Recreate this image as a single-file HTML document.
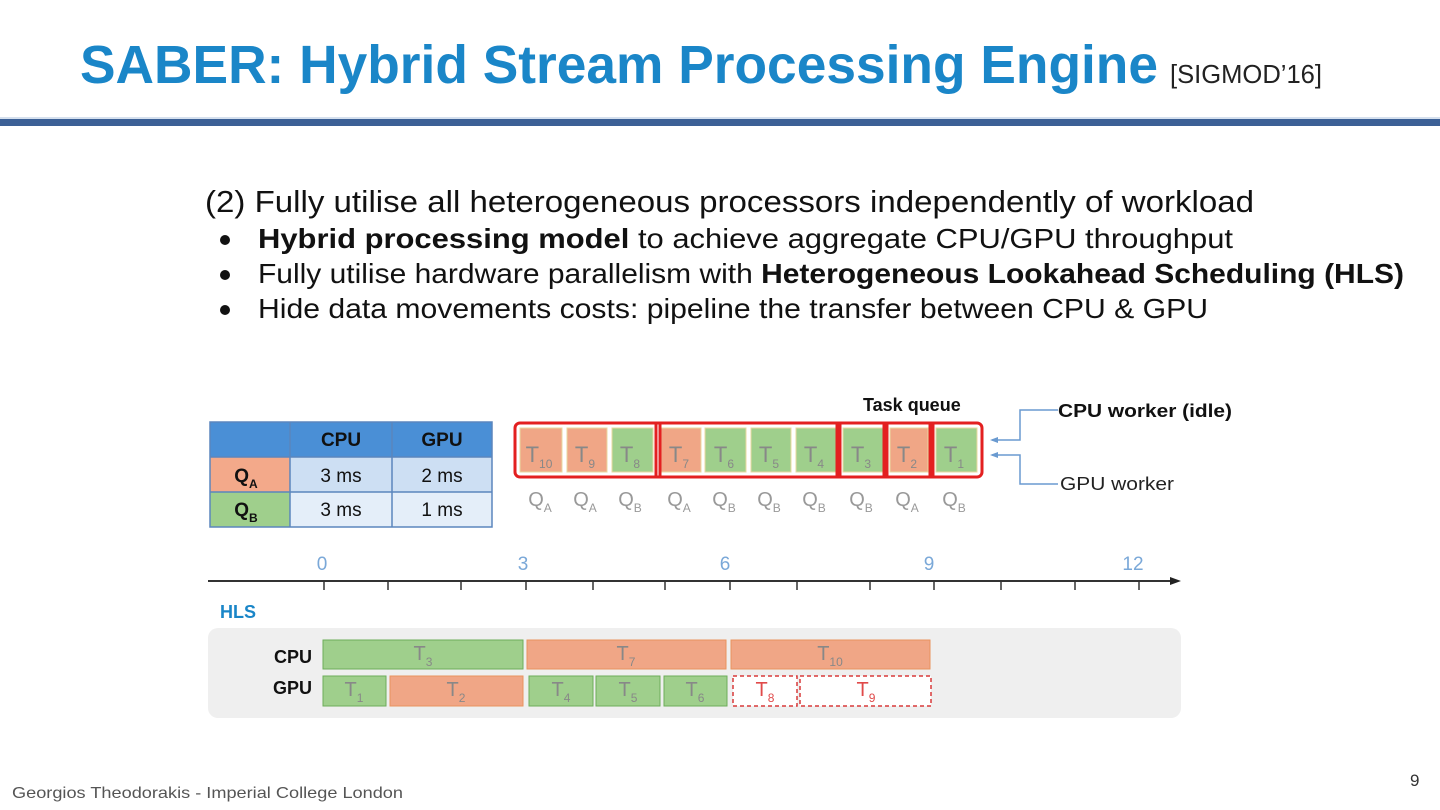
<!DOCTYPE html>
<html><head><meta charset="utf-8"><style>
html,body{margin:0;padding:0;background:#fff;}
svg{display:block;font-family:"Liberation Sans",Arial,sans-serif;}
</style></head><body>
<svg width="1440" height="810" viewBox="0 0 1440 810" xmlns="http://www.w3.org/2000/svg">
<rect width="1440" height="810" fill="#fff"/>
<text x="80" y="83" font-size="54" font-weight="bold" fill="#1a86c8" textLength="1078" lengthAdjust="spacingAndGlyphs">SABER: Hybrid Stream Processing Engine</text>
<text x="1170" y="83" font-size="26" fill="#222" textLength="152" lengthAdjust="spacingAndGlyphs">[SIGMOD’16]</text>
<rect x="0" y="119" width="1440" height="7" fill="#3c6096"/>
<rect x="0" y="117" width="1440" height="2" fill="#d5e0ee"/>

<text x="205" y="212" font-size="31" fill="#111" textLength="1049" lengthAdjust="spacingAndGlyphs">(2) Fully utilise all heterogeneous processors independently of workload</text>
<g font-size="28" fill="#111">
<circle cx="225" cy="240" r="5" fill="#111"/>
<text x="258" y="248" textLength="975" lengthAdjust="spacingAndGlyphs"><tspan font-weight="bold">Hybrid processing model</tspan> to achieve aggregate CPU/GPU throughput</text>
<circle cx="225" cy="275" r="5" fill="#111"/>
<text x="258" y="283" textLength="1146" lengthAdjust="spacingAndGlyphs">Fully utilise hardware parallelism with <tspan font-weight="bold">Heterogeneous Lookahead Scheduling (HLS)</tspan></text>
<circle cx="225" cy="310" r="5" fill="#111"/>
<text x="258" y="318" textLength="950" lengthAdjust="spacingAndGlyphs">Hide data movements costs: pipeline the transfer between CPU &amp; GPU</text>
</g>

<!-- table -->
<rect x="210" y="422" width="282" height="35" fill="#4a8fd6"/>
<rect x="210" y="457" width="80" height="35" fill="#f3a98a"/>
<rect x="210" y="492" width="80" height="35" fill="#9fcf8c"/>
<rect x="290" y="457" width="202" height="35" fill="#cddff3"/>
<rect x="290" y="492" width="202" height="35" fill="#e4eef9"/>
<g stroke="#5b86bd" stroke-width="1.5" fill="none">
<rect x="210" y="422" width="282" height="105"/>
<line x1="290" y1="422" x2="290" y2="527"/><line x1="392" y1="422" x2="392" y2="527"/>
<line x1="210" y1="457" x2="492" y2="457"/><line x1="210" y1="492" x2="492" y2="492"/>
</g>
<g font-size="19" text-anchor="middle" fill="#111">
<text x="341" y="446" font-weight="bold">CPU</text><text x="442" y="446" font-weight="bold">GPU</text>
<text x="341" y="482">3 ms</text><text x="442" y="482">2 ms</text>
<text x="341" y="516">3 ms</text><text x="442" y="516">1 ms</text>
<text x="246" y="482" font-weight="bold">Q<tspan font-size="12" dy="6">A</tspan></text>
<text x="246" y="516" font-weight="bold">Q<tspan font-size="12" dy="6">B</tspan></text>
</g>

<!-- task queue -->
<g stroke="#e8d8a0" stroke-width="1">
<rect x="520" y="428" width="42" height="44" fill="#f0a686"/>
<rect x="567" y="428" width="40" height="44" fill="#f0a686"/>
<rect x="612" y="428" width="41" height="44" fill="#9fcf8c"/>
<rect x="661" y="428" width="40" height="44" fill="#f0a686"/>
<rect x="705" y="428" width="41" height="44" fill="#9fcf8c"/>
<rect x="751" y="428" width="40" height="44" fill="#9fcf8c"/>
<rect x="796" y="428" width="40" height="44" fill="#9fcf8c"/>
<rect x="843" y="428" width="40" height="44" fill="#9fcf8c"/>
<rect x="890" y="428" width="38" height="44" fill="#f0a686"/>
<rect x="936" y="428" width="41" height="44" fill="#9fcf8c"/>
</g>
<g stroke="#e32020" stroke-width="3" fill="none">
<rect x="515" y="423" width="467" height="54" rx="5"/>
<line x1="656" y1="423" x2="656" y2="477"/><line x1="660" y1="423" x2="660" y2="477"/>
<line x1="837" y1="423" x2="837" y2="477"/><line x1="840" y1="423" x2="840" y2="477"/>
<line x1="884" y1="423" x2="884" y2="477"/><line x1="887" y1="423" x2="887" y2="477"/>
<line x1="930" y1="423" x2="930" y2="477"/><line x1="933" y1="423" x2="933" y2="477"/>
</g>
<g font-size="22" fill="#888" text-anchor="middle">
<text x="539" y="462">T<tspan font-size="12" dy="6">10</tspan></text>
<text x="585" y="462">T<tspan font-size="12" dy="6">9</tspan></text>
<text x="630" y="462">T<tspan font-size="12" dy="6">8</tspan></text>
<text x="679" y="462">T<tspan font-size="12" dy="6">7</tspan></text>
<text x="724" y="462">T<tspan font-size="12" dy="6">6</tspan></text>
<text x="769" y="462">T<tspan font-size="12" dy="6">5</tspan></text>
<text x="814" y="462">T<tspan font-size="12" dy="6">4</tspan></text>
<text x="861" y="462">T<tspan font-size="12" dy="6">3</tspan></text>
<text x="907" y="462">T<tspan font-size="12" dy="6">2</tspan></text>
<text x="954" y="462">T<tspan font-size="12" dy="6">1</tspan></text>
</g>
<g font-size="20" fill="#999" text-anchor="middle">
<text x="540" y="506">Q<tspan font-size="12" dy="6">A</tspan></text>
<text x="585" y="506">Q<tspan font-size="12" dy="6">A</tspan></text>
<text x="630" y="506">Q<tspan font-size="12" dy="6">B</tspan></text>
<text x="679" y="506">Q<tspan font-size="12" dy="6">A</tspan></text>
<text x="724" y="506">Q<tspan font-size="12" dy="6">B</tspan></text>
<text x="769" y="506">Q<tspan font-size="12" dy="6">B</tspan></text>
<text x="814" y="506">Q<tspan font-size="12" dy="6">B</tspan></text>
<text x="861" y="506">Q<tspan font-size="12" dy="6">B</tspan></text>
<text x="907" y="506">Q<tspan font-size="12" dy="6">A</tspan></text>
<text x="954" y="506">Q<tspan font-size="12" dy="6">B</tspan></text>
</g>
<text x="863" y="411" font-size="18" font-weight="bold" fill="#111">Task queue</text>
<g stroke="#6a9ad0" stroke-width="1.5" fill="none">
<polyline points="992,440 1020,440 1020,410 1058,410"/>
<polyline points="992,455 1020,455 1020,484 1058,484"/>
</g>
<polygon points="990,440 998,437 998,443" fill="#6a9ad0"/>
<polygon points="990,455 998,452 998,458" fill="#6a9ad0"/>
<text x="1058" y="417" font-size="18" font-weight="bold" fill="#111" textLength="174" lengthAdjust="spacingAndGlyphs">CPU worker (idle)</text>
<text x="1060" y="490" font-size="18" fill="#222" textLength="114" lengthAdjust="spacingAndGlyphs">GPU worker</text>

<!-- axis -->
<g font-size="19" fill="#7aa8d8" text-anchor="middle">
<text x="322" y="570">0</text><text x="523" y="570">3</text><text x="725" y="570">6</text><text x="929" y="570">9</text><text x="1133" y="570">12</text>
</g>
<line x1="208" y1="581" x2="1172" y2="581" stroke="#333" stroke-width="2"/>
<polygon points="1181,581 1170,577 1170,585" fill="#222"/>
<g stroke="#333" stroke-width="1.5">
<line x1="324" y1="581" x2="324" y2="590"/><line x1="388" y1="581" x2="388" y2="590"/><line x1="461" y1="581" x2="461" y2="590"/><line x1="526" y1="581" x2="526" y2="590"/><line x1="593" y1="581" x2="593" y2="590"/><line x1="665" y1="581" x2="665" y2="590"/><line x1="730" y1="581" x2="730" y2="590"/><line x1="797" y1="581" x2="797" y2="590"/><line x1="870" y1="581" x2="870" y2="590"/><line x1="934" y1="581" x2="934" y2="590"/><line x1="1001" y1="581" x2="1001" y2="590"/><line x1="1075" y1="581" x2="1075" y2="590"/><line x1="1139" y1="581" x2="1139" y2="590"/>
</g>
<text x="220" y="618" font-size="18" font-weight="bold" fill="#1a86c8">HLS</text>

<rect x="208" y="628" width="973" height="90" rx="10" fill="#efefef"/>
<text x="312" y="663" font-size="18" font-weight="bold" fill="#111" text-anchor="end">CPU</text>
<text x="312" y="694" font-size="18" font-weight="bold" fill="#111" text-anchor="end">GPU</text>
<rect x="323" y="640" width="200" height="29" fill="#9fcf8c" stroke="#6cae5a"/>
<rect x="527" y="640" width="199" height="29" fill="#f0a686" stroke="#e8935e"/>
<rect x="731" y="640" width="199" height="29" fill="#f0a686" stroke="#e8935e"/>
<rect x="323" y="676" width="63" height="30" fill="#9fcf8c" stroke="#6cae5a"/>
<rect x="390" y="676" width="133" height="30" fill="#f0a686" stroke="#e8935e"/>
<rect x="529" y="676" width="64" height="30" fill="#9fcf8c" stroke="#6cae5a"/>
<rect x="596" y="676" width="64" height="30" fill="#9fcf8c" stroke="#6cae5a"/>
<rect x="664" y="676" width="63" height="30" fill="#9fcf8c" stroke="#6cae5a"/>
<g fill="#fff" stroke="#d83a3a" stroke-width="1.5" stroke-dasharray="4,3">
<rect x="733" y="676" width="64" height="30"/>
<rect x="800" y="676" width="131" height="30"/>
</g>
<g font-size="20" fill="#888" text-anchor="middle">
<text x="423" y="660">T<tspan font-size="12" dy="6">3</tspan></text>
<text x="626" y="660">T<tspan font-size="12" dy="6">7</tspan></text>
<text x="830" y="660">T<tspan font-size="12" dy="6">10</tspan></text>
<text x="354" y="696">T<tspan font-size="12" dy="6">1</tspan></text>
<text x="456" y="696">T<tspan font-size="12" dy="6">2</tspan></text>
<text x="561" y="696">T<tspan font-size="12" dy="6">4</tspan></text>
<text x="628" y="696">T<tspan font-size="12" dy="6">5</tspan></text>
<text x="695" y="696">T<tspan font-size="12" dy="6">6</tspan></text>
</g>
<g font-size="20" fill="#e04a4a" text-anchor="middle">
<text x="765" y="696">T<tspan font-size="12" dy="6">8</tspan></text>
<text x="866" y="696">T<tspan font-size="12" dy="6">9</tspan></text>
</g>

<text x="12" y="798" font-size="16" fill="#555" textLength="391" lengthAdjust="spacingAndGlyphs">Georgios Theodorakis - Imperial College London</text>
<text x="1410" y="786" font-size="17" fill="#333">9</text>
</svg>
</body></html>
